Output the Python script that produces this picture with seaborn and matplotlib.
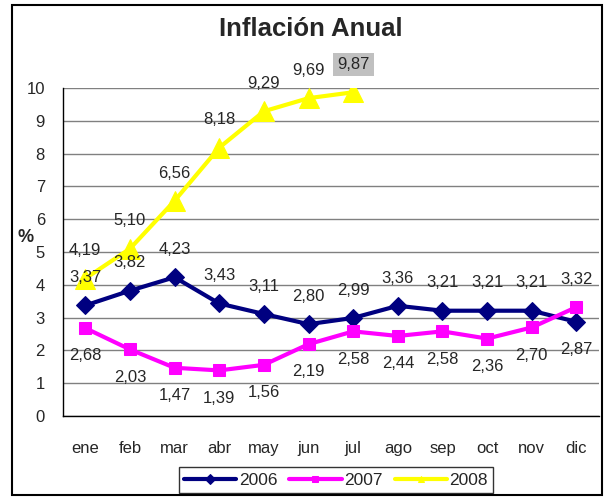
import pandas as pd
import matplotlib.pyplot as plt
import seaborn as sns
from matplotlib.patches import Rectangle

# data
months = ['ene', 'feb', 'mar', 'abr', 'may', 'jun', 'jul', 'ago', 'sep', 'oct', 'nov', 'dic']
infl_2006 = [3.37, 3.82, 4.23, 3.43, 3.11, 2.80, 2.99, 3.36, 3.21, 3.21, 3.21, 2.87]
infl_2007 = [2.68, 2.03, 1.47, 1.39, 1.56, 2.19, 2.58, 2.44, 2.58, 2.36, 2.70, 3.32]
infl_2008 = [4.19, 5.10, 6.56, 8.18, 9.29, 9.69, 9.87]

years = ['2006', '2007', '2008']
colors = {'2006': '#000080', '2007': '#FF00FF', '2008': '#FFFF00'}
markers = {'2006': 'D', '2007': 's', '2008': '^'}
msizes = {'2006': 9, '2007': 9, '2008': 14}

frames = []
for yr, vals in zip(years, [infl_2006, infl_2007, infl_2008]):
    frames.append(pd.DataFrame({'mes': months[:len(vals)], 'valor': vals, 'anio': yr}))
data = pd.concat(frames, ignore_index=True)

sns.set_style('white')
plt.rcParams['font.family'] = ['Liberation Sans', 'DejaVu Sans']

fig = plt.figure(figsize=(6.11, 5), dpi=100)
ax = fig.add_axes([0.103, 0.168, 0.877, 0.656])

for yr in years:
    sub = data[data['anio'] == yr]
    sns.lineplot(x='mes', y='valor', data=sub, ax=ax, color=colors[yr], marker=markers[yr],
                 markersize=msizes[yr], markeredgecolor=colors[yr], linewidth=3, label=yr,
                 sort=False)

# data labels
below_2006 = {'dic'}
above_2007 = {'dic'}
for yr in years:
    sub = data[data['anio'] == yr].reset_index(drop=True)
    for i, row in sub.iterrows():
        if yr == '2006':
            dy = -20 if row['mes'] in below_2006 else 20
        elif yr == '2007':
            dy = 20 if row['mes'] in above_2007 else -20
        else:
            dy = 20
        txt = f"{row['valor']:.2f}".replace('.', ',')
        bbox = None
        if yr == '2008' and row['mes'] == 'jul':
            bbox = dict(facecolor='#C0C0C0', edgecolor='none', pad=3)
        ax.annotate(txt, (i, row['valor']), xytext=(0, dy), textcoords='offset points',
                    ha='center', va='center', fontsize=12, bbox=bbox, annotation_clip=False)

ax.set_xlim(-0.5, 11.5)
ax.set_ylim(0, 10)
ax.set_yticks(range(0, 11))
ax.set_xticks(range(12))
ax.set_xticklabels(months)
ax.set_xticks([i - 0.5 for i in range(13)], minor=True)
ax.tick_params(axis='x', which='major', length=0, pad=18, labelsize=12)
ax.tick_params(axis='x', which='minor', length=5, width=1, direction='out', color='black')
ax.tick_params(axis='y', length=5, width=1, direction='out', color='black', pad=8, labelsize=12)
ax.yaxis.grid(True, color='#808080', linewidth=1)
ax.set_axisbelow(True)
for s in ['top', 'right']:
    ax.spines[s].set_visible(False)
for s in ['left', 'bottom']:
    ax.spines[s].set_color('black')
    ax.spines[s].set_linewidth(1)
ax.set_xlabel('')
ax.set_ylabel('')
fig.text(26 / 611, 1 - 237 / 500, '%', ha='center', va='center', fontsize=13, fontweight='bold')

fig.text(0.508, 0.942, 'Inflación Anual', ha='center', va='center', fontsize=18.5, fontweight='bold')

leg = ax.legend(loc='center', bbox_to_anchor=(0.55, 0.04), bbox_transform=fig.transFigure,
                ncol=3, frameon=True, fancybox=False, edgecolor='black', fontsize=12.5,
                handlelength=3, columnspacing=0.7, handletextpad=0.15, borderpad=0.3)
leg.get_frame().set_linewidth(1)
for h in leg.legend_handles:
    h.set_markersize(5)

fig.patches.append(Rectangle((12 / 611, 5 / 500), 590 / 611, 490 / 500, transform=fig.transFigure,
                             fill=False, edgecolor='black', linewidth=1.5))

fig.savefig('out.png', dpi=100)
